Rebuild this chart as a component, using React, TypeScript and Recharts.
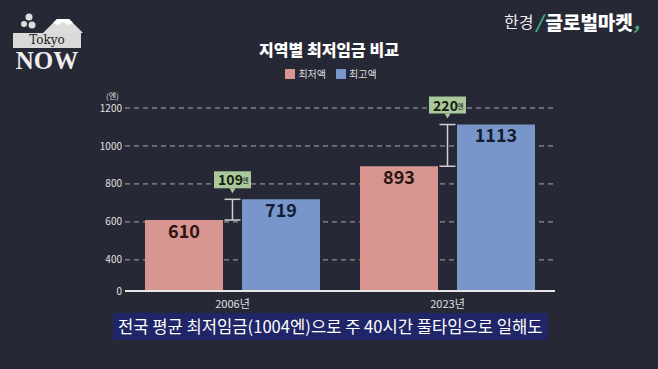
import React from 'react';
import { BarChart, Bar, XAxis, YAxis, CartesianGrid, LabelList } from 'recharts';

// 카테고리 / 값
const categories = ['2006년', '2023년'];
const minWage = [610, 893];
const maxWage = [719, 1113];
// 축 하단은 잘린 눈금 (0으로 표시)
const axisFloor = 236;
const yTicks = [axisFloor, 400, 600, 800, 1000, 1200];

const data = categories.map((name, i) => ({ name, low: minWage[i], high: maxWage[i] }));

const BG = '#262836';
const PINK = '#d8948f';
const BLUE = '#7896ca';
const GREEN = '#a9c89b';
const FONT = '"Noto Sans CJK KR", "Noto Sans", sans-serif';

const BAR_GAP = 19;

// 최고액 막대 왼쪽에 차이 표시 (브래킷 + 말풍선)
const DiffLabel = (props: any) => {
  const { x, y, width, height, value, index } = props;
  const low = minWage[index];
  const ppu = height / (value - axisFloor);
  const lowY = y + height - (low - axisFloor) * ppu;
  const xc = x - BAR_GAP / 2;
  const diff = value - low;
  const boxW = 37;
  const boxH = 17;
  const boxBottom = y - 11;
  return (
    <g>
      <line x1={xc} x2={xc} y1={y} y2={lowY} stroke="#d0d0d0" strokeWidth={1.5} />
      <line x1={xc - 8} x2={xc + 8} y1={y} y2={y} stroke="#d0d0d0" strokeWidth={1.5} />
      <line x1={xc - 8} x2={xc + 8} y1={lowY} y2={lowY} stroke="#d0d0d0" strokeWidth={1.5} />
      <rect x={xc - boxW / 2} y={boxBottom - boxH} width={boxW} height={boxH} fill={GREEN} />
      <path d={`M${xc - 3},${boxBottom} L${xc + 3},${boxBottom} L${xc},${boxBottom + 5} Z`} fill={GREEN} />
      <text x={xc - 2} y={boxBottom - 3} textAnchor="middle" fontFamily={FONT} fontWeight={700} fontSize={14} fill="#15200f">
        {diff}
      </text>
      <text x={xc + 13} y={boxBottom - 5} textAnchor="middle" fontFamily={FONT} fontSize={7} fill="#15200f">
        엔
      </text>
    </g>
  );
};

export default function App() {
  return (
    <div style={{ position: 'absolute', left: 0, top: 0, width: 658, height: 369, background: BG, overflow: 'hidden', fontFamily: FONT }}>
      {/* 로고 */}
      <div style={{ position: 'absolute', left: 13, top: 12, width: 70, height: 60 }}>
        <svg width={70} height={22} style={{ position: 'absolute', left: 0, top: 0 }}>
          <circle cx={16} cy={5} r={3.5} fill="#ddd" />
          <circle cx={11} cy={12} r={3} fill="#ddd" />
          <circle cx={19} cy={13} r={3.5} fill="#ddd" />
          <path d="M30,21 L44,7 L56,7 L70,21 Z" fill="#ddd" />
          <path d="M40,11 L44,7 L56,7 L60,11 L55,13 L50,10 L45,13 Z" fill="#fff" />
        </svg>
        <div style={{ position: 'absolute', left: 0, top: 21, width: 68, height: 15, background: '#d9d9d9', color: '#222', fontFamily: '"DejaVu Serif", serif', fontSize: 12, lineHeight: '15px', textAlign: 'center' }}>
          Tokyo
        </div>
        <div style={{ position: 'absolute', left: 0, top: 38, width: 68, height: 22, color: '#eee', fontFamily: '"Liberation Serif", serif', fontWeight: 700, fontSize: 25, lineHeight: '22px', textAlign: 'center' }}>
          NOW
        </div>
      </div>
      <div style={{ position: 'absolute', left: 504, top: 7, color: '#fff', whiteSpace: 'nowrap', display: 'flex', alignItems: 'center', height: 28 }}>
        <span style={{ fontSize: 16, color: '#eee' }}>한경</span>
        <span style={{ color: '#3fb08c', fontSize: 18, fontWeight: 700, fontStyle: 'italic', margin: '0 3px 0 2px' }}>/</span>
        <span style={{ fontSize: 19, fontWeight: 900 }}>글로벌마켓</span>
        <span style={{ color: '#3fb08c', fontSize: 18, fontWeight: 700, fontStyle: 'italic', marginLeft: 1 }}>,</span>
      </div>

      {/* 제목 / 범례 */}
      <div style={{ position: 'absolute', left: 0, top: 37, width: 658, textAlign: 'center', color: '#fff', fontSize: 16, fontWeight: 900 }}>
        지역별 최저임금 비교
      </div>
      <div style={{ position: 'absolute', left: 2, top: 66, width: 658, display: 'flex', justifyContent: 'center', gap: 10, color: '#ddd', fontSize: 10 }}>
        <span style={{ display: 'flex', alignItems: 'center', gap: 3 }}>
          <span style={{ width: 10, height: 10, background: PINK, display: 'inline-block' }} />최저액
        </span>
        <span style={{ display: 'flex', alignItems: 'center', gap: 3 }}>
          <span style={{ width: 10, height: 10, background: BLUE, display: 'inline-block' }} />최고액
        </span>
      </div>
      <div style={{ position: 'absolute', left: 106, top: 91, color: '#ddd', fontSize: 8, lineHeight: '9px' }}>(엔)</div>

      <BarChart
        width={658}
        height={369}
        data={data}
        margin={{ top: 108, right: 103, left: 85, bottom: 58 }}
        barGap={BAR_GAP}
        barCategoryGap={20}
        style={{ position: 'absolute', left: 0, top: 0 }}
      >
        <CartesianGrid vertical={false} stroke="#a8a9b0" strokeDasharray="5 4" strokeWidth={1} />
        <XAxis
          dataKey="name"
          height={20}
          tickLine={false}
          axisLine={{ stroke: '#e6e6e6', strokeWidth: 2 }}
          tick={{ fontSize: 11, fill: '#e0e0e0', fontFamily: FONT }}
          tickMargin={3}
        />
        <YAxis
          width={40}
          domain={[axisFloor, 1200]}
          ticks={yTicks}
          interval={0}
          tickLine={false}
          axisLine={false}
          tickSize={0}
          tickMargin={3}
          tickFormatter={(v: number) => (v === axisFloor ? '0' : String(v))}
          tick={{ fontSize: 10, fill: '#e0e0e0', fontFamily: FONT }}
        />
        <Bar dataKey="low" name="최저액" fill={PINK} barSize={78} isAnimationActive={false}>
          <LabelList dataKey="low" position="insideTop" offset={5} fill="#2a1414" fontSize={18} fontWeight={700} fontFamily={FONT} />
        </Bar>
        <Bar dataKey="high" name="최고액" fill={BLUE} barSize={78} isAnimationActive={false}>
          <LabelList dataKey="high" position="insideTop" offset={5} fill="#141c33" fontSize={18} fontWeight={700} fontFamily={FONT} />
          <LabelList dataKey="high" content={DiffLabel} />
        </Bar>
      </BarChart>

      {/* 자막 */}
      <div style={{ position: 'absolute', left: 113, top: 313, height: 27, padding: '0 5px', background: '#1f2566', color: '#fff', fontSize: 16.6, lineHeight: '27px', whiteSpace: 'nowrap' }}>
        전국 평균 최저임금(1004엔)으로 주 40시간 풀타임으로 일해도
      </div>
    </div>
  );
}
